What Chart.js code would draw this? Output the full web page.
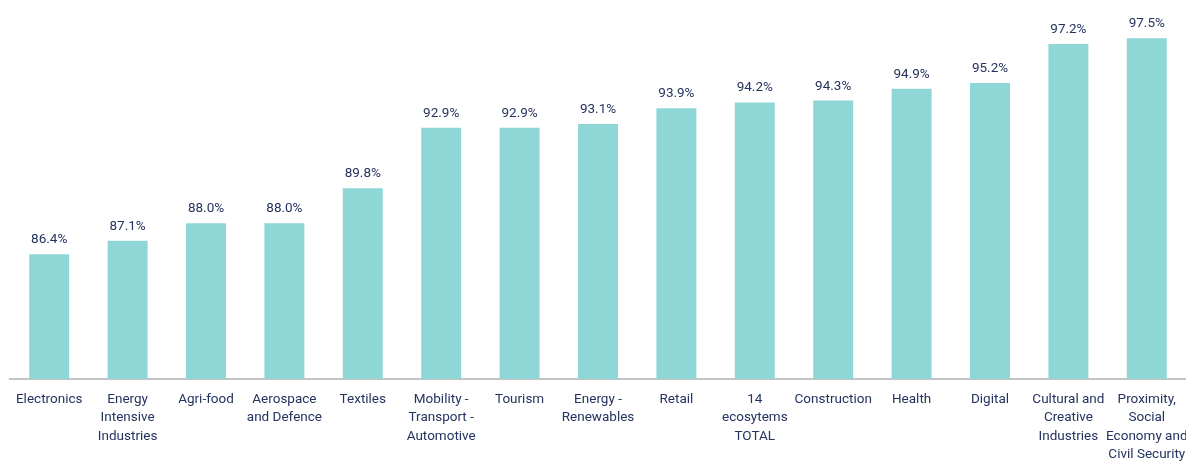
<!DOCTYPE html>
<html>
<head>
<meta charset="utf-8">
<script src="https://cdn.jsdelivr.net/npm/chart.js@4/dist/chart.umd.min.js"></script>
<style>
  html, body { margin: 0; padding: 0; background: #ffffff; overflow: hidden; }
  #wrap { width: 1186px; height: 461px; position: relative; }
  #chart { display: block; }
</style>
</head>
<body>
<div id="wrap"><canvas id="chart"></canvas></div>
<script>
// Share of firms per industrial ecosystem (%)
const categories = [
  ["Electronics"],
  ["Energy", "Intensive", "Industries"],
  ["Agri-food"],
  ["Aerospace", "and Defence"],
  ["Textiles"],
  ["Mobility -", "Transport -", "Automotive"],
  ["Tourism"],
  ["Energy -", "Renewables"],
  ["Retail"],
  ["14", "ecosytems", "TOTAL"],
  ["Construction"],
  ["Health"],
  ["Digital"],
  ["Cultural and", "Creative", "Industries"],
  ["Proximity,", "Social", "Economy and", "Civil Security"]
];
const shares = [86.4, 87.1, 88.0, 88.0, 89.8, 92.9, 92.9, 93.1, 93.9, 94.2, 94.3, 94.9, 95.2, 97.2, 97.5];

const FONT = '"Liberation Sans Narrow", "Roboto", sans-serif';
const TEXT = '#24335f';

// Writes the percentage above each bar
const valueLabels = {
  id: 'valueLabels',
  afterDatasetsDraw(chart) {
    const ctx = chart.ctx;
    const meta = chart.getDatasetMeta(0);
    ctx.save();
    ctx.font = '13.5px ' + FONT;
    ctx.fillStyle = TEXT;
    ctx.textAlign = 'center';
    ctx.textBaseline = 'alphabetic';
    meta.data.forEach((bar, i) => {
      ctx.fillText(shares[i].toFixed(1) + '%', bar.x, bar.y - 11);
    });
    ctx.restore();
  }
};

new Chart(document.getElementById('chart'), {
  type: 'bar',
  data: {
    labels: categories,
    datasets: [{
      data: shares,
      backgroundColor: '#8fd7d6',
      borderWidth: 0,
      barPercentage: 0.51,
      categoryPercentage: 1.0
    }]
  },
  options: {
    responsive: true,
    maintainAspectRatio: false,
    animation: false,
    layout: { padding: { top: 9, left: 10, right: 0, bottom: 0 } },
    plugins: {
      legend: { display: false },
      tooltip: { enabled: false }
    },
    scales: {
      y: {
        display: false,
        min: 80,
        max: 99
      },
      x: {
        grid: { display: false, drawTicks: false },
        border: { display: true, color: '#c4c4c4', width: 2 },
        ticks: {
          color: TEXT,
          font: { family: FONT, size: 13.5, lineHeight: 1.37 },
          padding: 11,
          maxRotation: 0,
          autoSkip: false
        },
        afterFit(scale) {
          // labels may hang past the plot edges; keep the bars spanning the full width
          scale.height = 82;
          scale.paddingLeft = 0;
          scale.paddingRight = 0;
        }
      }
    }
  },
  plugins: [valueLabels]
});
</script>
</body>
</html>
